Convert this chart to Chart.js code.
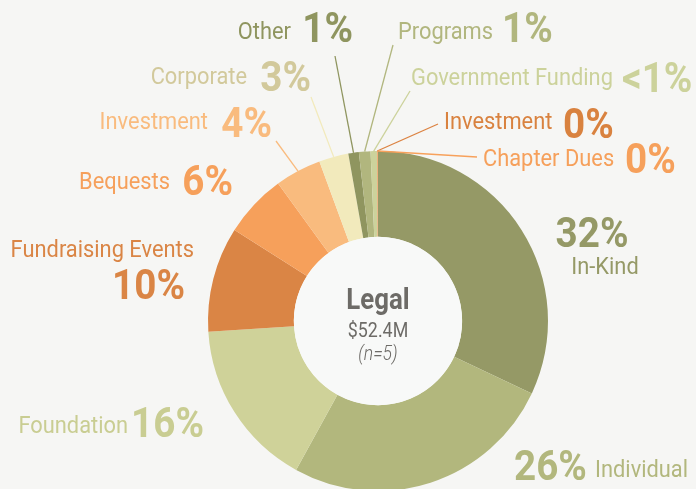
<!DOCTYPE html>
<html>
<head>
<meta charset="utf-8">
<script src="https://cdn.jsdelivr.net/npm/chart.js@4.4.1/dist/chart.umd.min.js"></script>
<style>
    html, body { margin: 0; padding: 0; background: #f6f6f4; overflow: hidden; }
    #wrap { position: relative; width: 696px; height: 492px; }
</style>
</head>
<body>
<div id="wrap"><canvas id="revenueChart"></canvas></div>
<script>
/* ── DATA ───────────────────────────────────── */
const categories  = ['In-Kind', 'Individual', 'Foundation', 'Fundraising Events', 'Bequests', 'Investment',
                     'Corporate', 'Other', 'Programs', 'Government Funding', 'Investment', 'Chapter Dues'];
const shares      = [32, 26, 16, 10, 6, 4.4, 2.8, 1.0, 1.1, 0.6, 0.05, 0.05];
const shareLabels = ['32%', '26%', '16%', '10%', '6%', '4%', '3%', '1%', '1%', '<1%', '0%', '0%'];
const centerTitle = 'Legal';
const centerTotal = '$52.4M';
const centerCount = '(n=5)';

/* ── STYLE ──────────────────────────────────── */
const sliceColors = ['#959966', '#b2b77d', '#cfd299', '#da8545', '#f6a05b', '#f9bb7e',
                     '#f2eabc', '#8f955f', '#b1b67e', '#ccd29b', '#dc8241', '#f7a15b'];
const textColors  = ['#959966', '#b2b77d', '#c9cd92', '#da8545', '#f6a05b', '#f9bb7e',
                     '#d2c99b', '#8f955f', '#b1b67e', '#ccd29b', '#d9823f', '#f6a05b'];

// where each label sits: [x, baseline, align]; leader = outer end of the pointer line
const labelLayout = [
    { pct: [592, 247, 'center'], name: [605, 274, 'center'] },
    { pct: [514, 480, 'left'],   name: [595, 477, 'left'] },
    { name: [128, 433, 'right'], pct: [204, 437, 'right'] },
    { name: [194, 257, 'right'], pct: [185, 299, 'right'] },
    { name: [170, 189, 'right'], pct: [233, 195, 'right'] },
    { name: [208, 129, 'right'], pct: [272, 137, 'right'], leader: [276, 141] },
    { name: [247, 84, 'right'],  pct: [311, 91, 'right'],  leader: [311, 97] },
    { name: [291, 39, 'right'],  pct: [353, 42, 'right'],  leader: [335, 56] },
    { name: [398, 39, 'left'],   pct: [502, 42, 'left'],   leader: [393, 45] },
    { name: [411, 85, 'left'],   pct: [622, 92, 'left'],   leader: [410, 91] },
    { name: [444, 129, 'left'],  pct: [563, 138, 'left'],  leader: [438, 124] },
    { name: [483, 166, 'left'],  pct: [625, 173, 'left'],  leader: [477, 157] }
];

const NAME_FONT = '400 24px Roboto';
const PCT_FONT  = '700 42px Roboto';

function drawSqueezed(ctx, text, x, y, align, font, color, squeeze) {
    ctx.save();
    ctx.font = font;
    ctx.fillStyle = color;
    ctx.textAlign = 'left';
    ctx.textBaseline = 'alphabetic';
    const w = ctx.measureText(text).width * squeeze;
    let left = x;
    if (align === 'right') left = x - w;
    else if (align === 'center') left = x - w / 2;
    ctx.translate(left, y);
    ctx.scale(squeeze, 1);
    ctx.fillText(text, 0, 0);
    ctx.restore();
}

/* ── PLUGINS ────────────────────────────────── */
const holePlugin = {
    id: 'hole',
    afterDatasetsDraw(chart) {
        const arc = chart.getDatasetMeta(0).data[0];
        if (!arc) return;
        const ctx = chart.ctx;
        ctx.save();
        ctx.beginPath();
        ctx.arc(arc.x, arc.y, arc.innerRadius, 0, Math.PI * 2);
        ctx.fillStyle = '#f8f9f8';
        ctx.fill();
        ctx.restore();

        drawSqueezed(ctx, centerTitle, arc.x, 309, 'center', '700 29px Roboto', '#6d6b67', 0.89);
        drawSqueezed(ctx, centerTotal, arc.x, 337, 'center', '400 21px Roboto', '#6d6b67', 0.85);
        drawSqueezed(ctx, centerCount, arc.x, 360, 'center', 'italic 300 20px Roboto', '#6d6b67', 0.88);
    }
};

const labelPlugin = {
    id: 'sliceLabels',
    afterDraw(chart) {
        const ctx = chart.ctx;
        const arcs = chart.getDatasetMeta(0).data;
        labelLayout.forEach((lay, i) => {
            const arc = arcs[i];
            if (lay.leader && arc) {
                const mid = (arc.startAngle + arc.endAngle) / 2;
                ctx.save();
                ctx.strokeStyle = sliceColors[i];
                ctx.lineWidth = 1.3;
                ctx.beginPath();
                ctx.moveTo(lay.leader[0], lay.leader[1]);
                ctx.lineTo(arc.x + Math.cos(mid) * arc.outerRadius, arc.y + Math.sin(mid) * arc.outerRadius);
                ctx.stroke();
                ctx.restore();
            }
            drawSqueezed(ctx, categories[i], lay.name[0], lay.name[1], lay.name[2], NAME_FONT, textColors[i], 0.91);
            drawSqueezed(ctx, shareLabels[i], lay.pct[0], lay.pct[1], lay.pct[2], PCT_FONT, textColors[i], 0.92);
        });
    }
};

/* ── CHART ──────────────────────────────────── */
new Chart(document.getElementById('revenueChart'), {
    type: 'doughnut',
    data: {
        labels: categories,
        datasets: [{
            data: shares,
            backgroundColor: sliceColors,
            borderWidth: 0,
            hoverBorderWidth: 0,
            offset: 0,
            hoverOffset: 0
        }]
    },
    options: {
        responsive: true,
        maintainAspectRatio: false,
        animation: false,
        cutout: '49.5%',
        layout: { padding: { left: 208, right: 148, top: 151, bottom: 1 } },
        plugins: {
            legend: { display: false },
            tooltip: { enabled: false }
        }
    },
    plugins: [holePlugin, labelPlugin]
});
</script>
</body>
</html>
